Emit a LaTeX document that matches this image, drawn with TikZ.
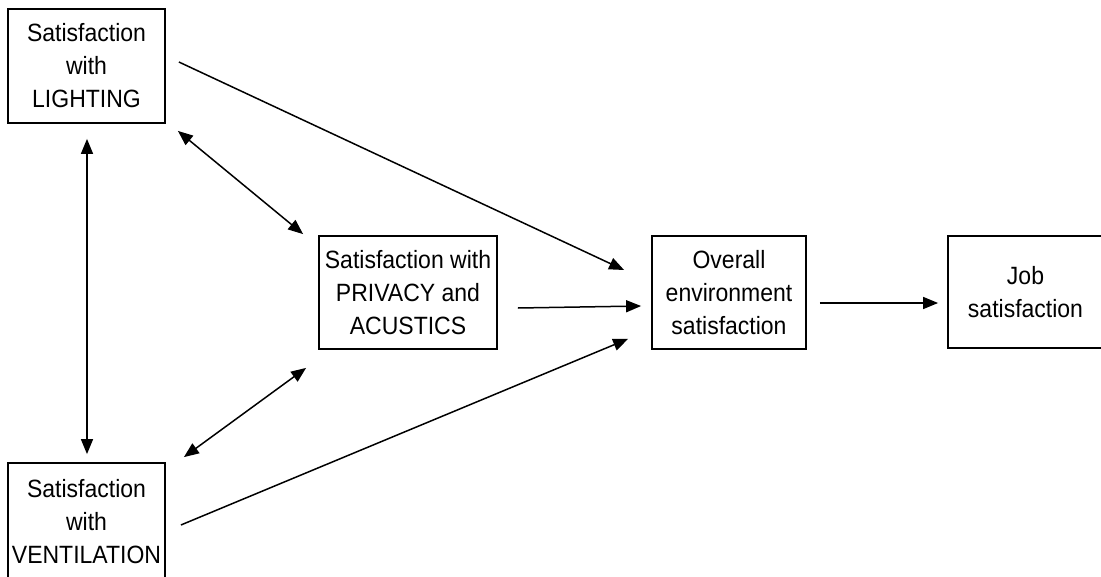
\documentclass[tikz,border=0pt]{standalone}
\usepackage{fontspec}
\setmainfont{Liberation Sans}
\newfontfamily\diagfont[FakeStretch=0.92]{Liberation Sans}
\usetikzlibrary{arrows.meta,calc}
\begin{document}
\begin{tikzpicture}[x=1pt,y=-1pt,
  box/.style={draw=black,line width=1.8pt,inner sep=0pt,align=center,
    font=\diagfont\fontsize{25}{33}\selectfont},
  arr/.style={line width=1.5pt,-{Triangle[length=15pt,width=12pt]}},
  biarr/.style={line width=1.5pt,{Triangle[length=15pt,width=12pt]}-{Triangle[length=15pt,width=12pt]}}]
\path[use as bounding box] (0,0) rectangle (1101,576);
\clip (0,0) rectangle (1101,576);
\fill[white] (0,0) rectangle (1101,576);

% boxes
\node[box,minimum width=157pt,minimum height=114pt] (light) at (86.5,66)
  {Satisfaction\\with\\LIGHTING};
\node[box,minimum width=157pt,minimum height=117pt] (vent) at (86.5,521.5)
  {Satisfaction\\with\\VENTILATION};
\node[box,minimum width=178pt,minimum height=113pt] (priv) at (408,292.5)
  {Satisfaction with\\PRIVACY and\\ACUSTICS};
\node[box,minimum width=154pt,minimum height=113pt] (overall) at (729,292.5)
  {Overall\\environment\\satisfaction};
\node[box,minimum width=155pt,minimum height=112pt] (job) at (1025.5,292)
  {Job\\satisfaction};

% correlations between the three satisfaction factors
\draw[biarr] ($(light.south)+(0.5,15)$) -- ($(vent.north)+(0.5,-8)$);
\draw[biarr] ($(light.south east)+(12,7)$) -- ($(priv.north west)+(-15,-1)$);
\draw[biarr] ($(vent.north east)+(18,-5)$) -- ($(priv.south west)+(-12,18)$);

% effects on overall satisfaction
\draw[arr] ($(light.east)+(13,-4)$) -- ($(overall.west)+(-27,-22.5)$);
\draw[arr] ($(priv.east)+(20,15.5)$) -- ($(overall.west)+(-10,13.5)$);
\draw[arr] ($(vent.east)+(15,3.5)$) -- ($(overall.south west)+(-23,-11)$);
\draw[arr] ($(overall.east)+(13,10.5)$) -- ($(job.west)+(-9,11)$);
\end{tikzpicture}
\end{document}
